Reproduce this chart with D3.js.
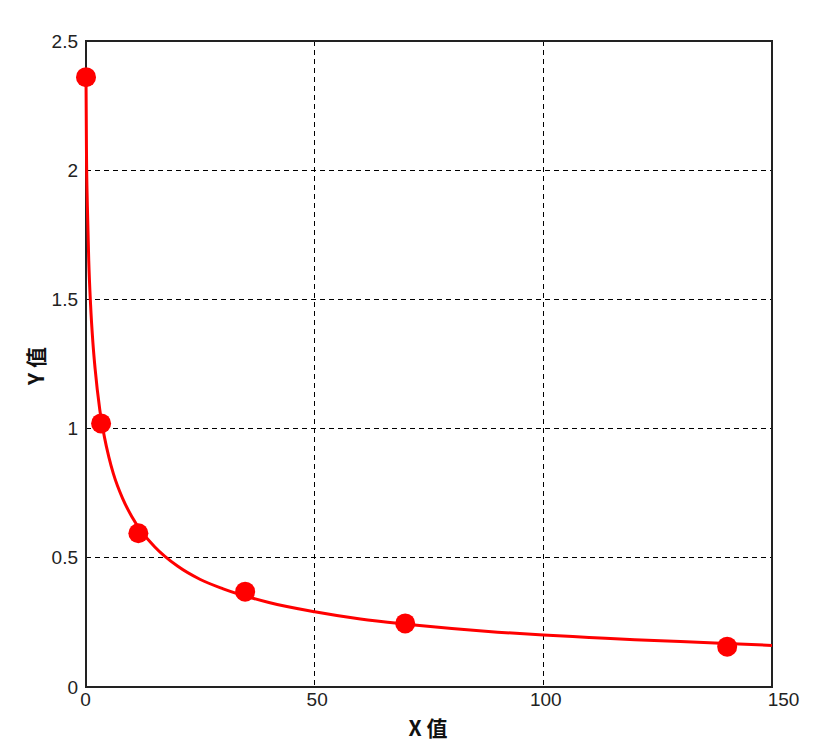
<!DOCTYPE html>
<html>
<head>
<meta charset="utf-8">
<script src="https://cdn.jsdelivr.net/npm/d3@7"></script>
<style>
  html, body { margin: 0; padding: 0; background: #fff; }
  svg { display: block; }
  .tick text { font-family: "Liberation Sans", Arial, sans-serif; font-size: 19px; fill: #222; }
</style>
</head>
<body>
<svg id="chart" width="829" height="748"></svg>
<script>
// ---- data ----
const pointX = [0, 3.3, 11.45, 34.8, 69.8, 140.2];
const pointY = [2.36, 1.02, 0.595, 0.369, 0.246, 0.156];

const curveX = [0, 0.1, 0.3, 0.6, 1, 1.5, 2, 3, 4, 5, 6, 8, 10, 12, 15, 20, 25, 30, 40, 50, 60, 70, 80, 90, 100, 110, 120, 130, 140, 150];
const curveY = [2.36, 2.08, 1.86, 1.65, 1.48, 1.335, 1.23, 1.075, 0.97, 0.89, 0.825, 0.73, 0.66, 0.605, 0.543, 0.468, 0.416, 0.38, 0.327, 0.291, 0.263, 0.243, 0.226, 0.212, 0.201, 0.192, 0.183, 0.176, 0.168, 0.161];

const xTicks = [0, 50, 100, 150];
const yTicks = [0, 0.5, 1, 1.5, 2, 2.5];
const xTitle = "X 值";
const yTitle = "Y 值";

// ---- layout ----
const svg = d3.select("#chart");
const L = 86, T = 41, R = 772, B = 687;

const x = d3.scaleLinear().domain([0, 150]).range([L, R]);
const y = d3.scaleLinear().domain([0, 2.5]).range([B, T]);

// grid
const grid = svg.append("g");
grid.selectAll("line.v").data(xTicks.filter(d => d > 0 && d < 150)).join("line")
  .attr("x1", d => x(d)).attr("x2", d => x(d)).attr("y1", T).attr("y2", B)
  .attr("stroke", "#000").attr("stroke-width", 1).attr("stroke-dasharray", "5,4")
  .attr("shape-rendering", "crispEdges");
grid.selectAll("line.h").data(yTicks.filter(d => d > 0 && d < 2.5)).join("line")
  .attr("x1", L).attr("x2", R).attr("y1", d => y(d)).attr("y2", d => y(d))
  .attr("stroke", "#000").attr("stroke-width", 1).attr("stroke-dasharray", "5,4")
  .attr("shape-rendering", "crispEdges");

// axes (labels only)
const xAxis = svg.append("g").attr("transform", `translate(0,${B})`)
  .call(d3.axisBottom(x).tickValues(xTicks).tickFormat(d3.format("")).tickSize(0).tickPadding(6));
xAxis.select(".domain").remove();
xAxis.selectAll(".tick text").attr("dy", "0.71em")
  .attr("dx", d => d === 150 ? 11 : (d === 0 ? -1 : 2));

const yAxis = svg.append("g").attr("transform", `translate(${L},0)`)
  .call(d3.axisLeft(y).tickValues(yTicks).tickFormat(d3.format("")).tickSize(0).tickPadding(8));
yAxis.select(".domain").remove();

// box
svg.append("rect").attr("x", L).attr("y", T).attr("width", R - L).attr("height", B - T)
  .attr("fill", "none").attr("stroke", "#222").attr("stroke-width", 2);

// curve
const curveData = curveX.map((d, i) => [d, curveY[i]]);
svg.append("path").datum(curveData)
  .attr("d", d3.line().x(d => x(d[0])).y(d => y(d[1])).curve(d3.curveMonotoneX))
  .attr("fill", "none").attr("stroke", "#ff0000").attr("stroke-width", 3);

// points
const pts = pointX.map((d, i) => [d, pointY[i]]);
svg.append("g").selectAll("circle").data(pts).join("circle")
  .attr("cx", d => x(d[0])).attr("cy", d => y(d[1])).attr("r", 10)
  .attr("fill", "#ff0000");

// titles
svg.append("text").attr("x", 428).attr("y", 736).attr("text-anchor", "middle")
  .attr("font-family", "'Noto Sans CJK SC', 'Liberation Sans', sans-serif")
  .attr("font-weight", "bold").attr("font-size", 21).attr("fill", "#111").text(xTitle);

svg.append("text").attr("transform", "translate(44,366) rotate(-90)").attr("text-anchor", "middle")
  .attr("font-family", "'Noto Sans CJK SC', 'Liberation Sans', sans-serif")
  .attr("font-weight", "bold").attr("font-size", 21).attr("fill", "#111").text(yTitle);
</script>
</body>
</html>
